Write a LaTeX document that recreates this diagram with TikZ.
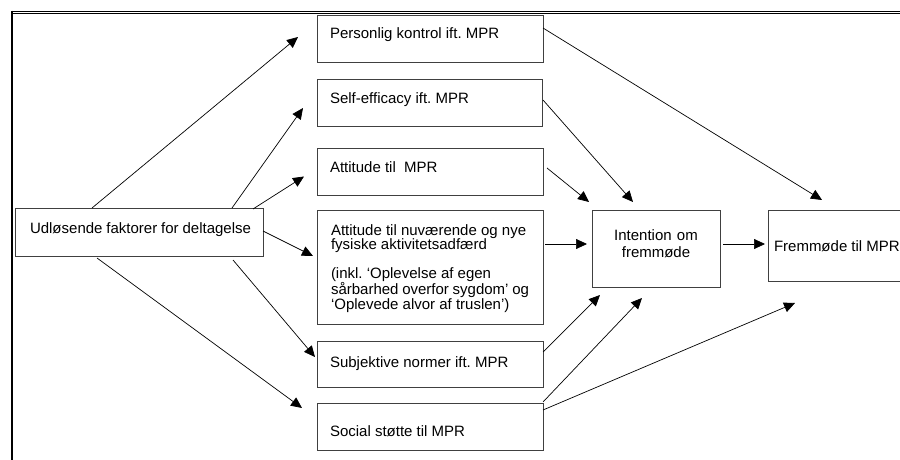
\documentclass[tikz,border=0pt]{standalone}
\usepackage{fontspec}
\setmainfont{Liberation Sans}
\frenchspacing
\usetikzlibrary{arrows.meta,calc}

\begin{document}
\begin{tikzpicture}[x = 1pt, y = -1pt,
		box/.style = {draw = black!75, line width = .8pt, outer sep = 0pt, anchor = north west, inner xsep = 13pt, inner ysep = 0pt, align = left, text width = 200pt, font = \fontsize{15}{14.5}\selectfont, execute at begin node = {\spaceskip=0pt\xspaceskip=0pt}},
		arr/.style = {-{Triangle[length = 11pt, width = 10pt]}, line width = .7pt}]
	\useasboundingbox (0,0) rectangle (900,460);
	\clip (0,0) rectangle (900,460);
	\draw[line width = .9pt] (11,11.5) -- (900,11.5); %top rule
	\draw[line width = .9pt] (13,13.7) -- (900,13.7);
	\draw[line width = 2.2pt] (12,10.6) -- (12,460); %left rule
	\node[box, text height = 24pt, text depth = 23pt] (pk) at (317,15) {Personlig kontrol ift. MPR};
	\node[box, text width = 199pt, text height = 24pt, text depth = 23pt] (se) at (317,79) {Self-efficacy ift. MPR};
	\node[box, text height = 24pt, text depth = 23pt] (att) at (317,148) {Attitude til \ MPR};
	\node[box, inner xsep = 14pt, text width = 198pt, text height = 25pt, text depth = 89pt] (attfys) at (317,210) {Attitude til nuværende og nye\\fysiske aktivitetsadfærd\\[14.5pt](inkl. ‘Oplevelse af egen\\sårbarhed overfor sygdom’ og\\‘Oplevede alvor af truslen’)};
	\node[box, text height = 26pt, text depth = 20pt] (subj) at (317,341) {Subjektive normer ift. MPR};
	\node[box, text height = 33pt, text depth = 14pt] (social) at (317,403) {Social støtte til MPR};
	\node[box, inner xsep = 12pt, text width = 224pt, text height = 25pt, text depth = 23pt] (trigger) at (15,208) {\hspace*{3pt}Udløsende faktorer for deltagelse};
	\node[box, align = center, inner xsep = 6pt, text width = 116pt, text height = 30pt, text depth = 47pt, font = \fontsize{15}{17}\selectfont] (intent) at (592,210) {Intention om\\fremmøde};
	\node[box, inner xsep = 6pt, text width = 140pt, text height = 41pt, text depth = 30pt] (turnout) at (768,210) {Fremmøde til MPR};
	\draw[arr] ($(trigger.north west)+(77,0)$) -- ($(pk.west)+(-19,-1.5)$);
	\draw[arr] ($(trigger.north west)+(217,0)$) -- ($(se.west)+(-14,5.5)$);
	\draw[arr] ($(trigger.north east)+(-10,1)$) -- ($(att.west)+(-13,5)$);
	\draw[arr] ($(trigger.east)+(0,-1)$) -- ($(attfys.north west)+(-4,46)$);
	\draw[arr] ($(trigger.south west)+(218,4)$) -- ($(subj.west)+(-2,-7)$);
	\draw[arr] ($(trigger.south west)+(82,2)$) -- ($(social.north west)+(-15,5)$);
	\draw[arr] ($(pk.north east)+(0,13)$) -- ($(turnout.north west)+(54,-10)$);
	\draw[arr] ($(se.north east)+(1,21)$) -- ($(intent.north west)+(41,-8)$);
	\draw[arr] ($(att.north east)+(4,20)$) -- ($(intent.north west)+(-3,-8)$);
	\draw[arr] ($(attfys.north east)+(2,34)$) -- ($(intent.north west)+(-5,34)$);
	\draw[arr] ($(intent.north east)+(3,34)$) -- ($(turnout.north west)+(-3,34)$);
	\draw[arr] ($(subj.north east)+(0,11)$) -- ($(intent.south west)+(8,8)$);
	\draw[arr] ($(social.north east)+(0,-1)$) -- ($(intent.south west)+(50,11)$);
	\draw[arr] ($(social.north east)+(0,7)$) -- ($(turnout.south west)+(27,22)$);
\end{tikzpicture}
\end{document}
